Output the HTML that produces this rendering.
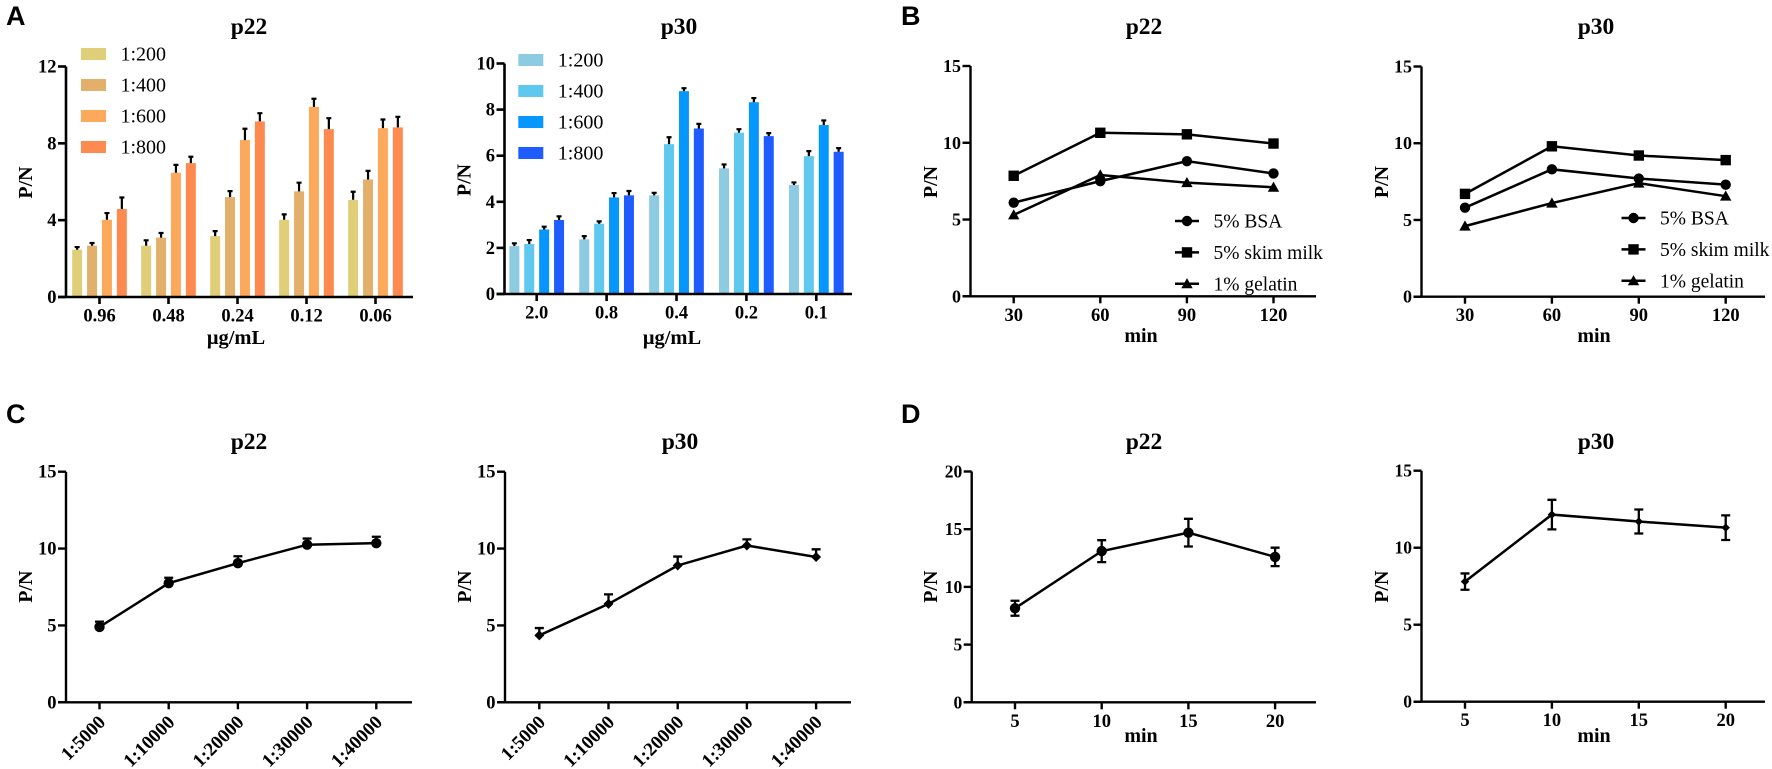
<!DOCTYPE html>
<html lang="en">
<head>
<meta charset="utf-8">
<title>P/N optimisation charts</title>
<style>
html,body{margin:0;padding:0;background:#fff;}
svg{display:block;}
text{font-family:"Liberation Serif",serif;fill:#000;}
.bold{font-weight:700;}
.letter{font-family:"Liberation Sans",sans-serif;font-weight:700;font-size:27px;}
</style>
</head>
<body>
<svg id="figure" width="1772" height="769" viewBox="0 0 1772 769" xmlns="http://www.w3.org/2000/svg"></svg>
<script>
/* ---------- shared labels ---------- */
const dilutionLabels = ['1:200', '1:400', '1:600', '1:800'];
const warmColors = ['#e0cf78', '#e3b06c', '#fda95c', '#fe8a50'];
const coolColors = ['#8ccbe2', '#5fc8ef', '#0597fe', '#1f5cfe'];
const blockerLabels = ['5% BSA', '5% skim milk', '1% gelatin'];
const blockerShapes = ['circle', 'square', 'triangle'];

/* ---------- panel A p22 ---------- */
const aP22Categories = ['0.96', '0.48', '0.24', '0.12', '0.06'];
const aP22Ticks = [0, 4, 8, 12];
const aP22D200 = [2.46, 2.67, 3.17, 4.02, 5.06];
const aP22D400 = [2.67, 3.09, 5.2, 5.5, 6.12];
const aP22D600 = [4.02, 6.47, 8.17, 9.9, 8.79];
const aP22D800 = [4.58, 6.97, 9.14, 8.74, 8.83];
const aP22E200 = [0.14, 0.28, 0.26, 0.28, 0.42];
const aP22E400 = [0.14, 0.24, 0.31, 0.45, 0.45];
const aP22E600 = [0.35, 0.41, 0.59, 0.42, 0.45];
const aP22E800 = [0.6, 0.33, 0.43, 0.57, 0.55];

/* ---------- panel A p30 ---------- */
const aP30Categories = ['2.0', '0.8', '0.4', '0.2', '0.1'];
const aP30Ticks = [0, 2, 4, 6, 8, 10];
const aP30D200 = [2.08, 2.37, 4.28, 5.45, 4.73];
const aP30D400 = [2.17, 3.05, 6.5, 7.0, 5.98];
const aP30D600 = [2.8, 4.19, 8.8, 8.32, 7.33];
const aP30D800 = [3.21, 4.28, 7.18, 6.85, 6.17];
const aP30E200 = [0.12, 0.14, 0.11, 0.17, 0.11];
const aP30E400 = [0.17, 0.1, 0.3, 0.15, 0.22];
const aP30E600 = [0.12, 0.19, 0.13, 0.18, 0.2];
const aP30E800 = [0.16, 0.19, 0.2, 0.13, 0.16];

/* ---------- panel B ---------- */
const minuteCategoriesB = ['30', '60', '90', '120'];
const ticks0to15 = [0, 5, 10, 15];
const bP22Bsa = [6.1, 7.5, 8.8, 8.0];
const bP22Milk = [7.85, 10.65, 10.55, 9.95];
const bP22Gelatin = [5.3, 7.9, 7.4, 7.1];
const bP30Bsa = [5.8, 8.3, 7.7, 7.3];
const bP30Milk = [6.7, 9.8, 9.2, 8.9];
const bP30Gelatin = [4.6, 6.1, 7.4, 6.55];

/* ---------- panel C ---------- */
const dilutionCategoriesC = ['1:5000', '1:10000', '1:20000', '1:30000', '1:40000'];
const cP22Values = [4.9, 7.75, 9.05, 10.25, 10.35];
const cP22Errors = [0.35, 0.35, 0.45, 0.4, 0.42];
const cP30Values = [4.35, 6.4, 8.9, 10.2, 9.45];
const cP30Errors = [0.48, 0.62, 0.58, 0.4, 0.5];

/* ---------- panel D ---------- */
const minuteCategoriesD = ['5', '10', '15', '20'];
const ticks0to20 = [0, 5, 10, 15, 20];
const dP22Values = [8.15, 13.1, 14.7, 12.6];
const dP22Errors = [0.65, 0.95, 1.2, 0.8];
const dP30Values = [7.8, 12.15, 11.7, 11.3];
const dP30Errors = [0.53, 0.96, 0.78, 0.8];

const svg = document.getElementById('figure');
const NS = 'http://www.w3.org/2000/svg';

function make(tag, parent, attrs, content) {
  const node = document.createElementNS(NS, tag);
  for (const key in attrs) node.setAttribute(key, attrs[key]);
  if (content !== undefined) node.textContent = content;
  parent.appendChild(node);
  return node;
}

function linearScale(domainMax, y0, yTop) {
  return function (v) { return y0 - (v / domainMax) * (y0 - yTop); };
}

function drawMarker(parent, shape, x, y, size) {
  let m;
  if (shape === 'circle') {
    m = make('circle', parent, { cx: x, cy: y, r: 5.2, fill: '#000' });
  } else if (shape === 'square') {
    m = make('rect', parent, { x: x - 5.2, y: y - 5.2, width: 10.4, height: 10.4, fill: '#000' });
  } else if (shape === 'triangle') {
    m = make('polygon', parent, { points: (x - 5.7) + ',' + (y + 4.5) + ' ' + x + ',' + (y - 5.7) + ' ' + (x + 5.7) + ',' + (y + 4.5), fill: '#000' });
  } else {
    m = make('polygon', parent, { points: (x - size) + ',' + y + ' ' + x + ',' + (y - size) + ' ' + (x + size) + ',' + y + ' ' + x + ',' + (y + size), fill: '#000' });
  }
  
  
}

function drawAxes(g, cfg, y) {
  const ax = make('path', g, {
    d: 'M' + cfg.axisX + ' ' + cfg.yTop + 'V' + cfg.y0 + 'M' + (cfg.axisX - 8) + ' ' + cfg.y0 + 'H' + cfg.xEnd,
    fill: 'none', stroke: '#000', 'stroke-width': cfg.axisWidth
  });
  
  

  cfg.yTicks.forEach(function (t) {
    const mark = make('line', g, { x1: cfg.axisX - 8, x2: cfg.axisX, y1: y(t), y2: y(t), stroke: '#000', 'stroke-width': cfg.axisWidth });
    
    
    const lab = make('text', g, { x: cfg.axisX - 9.5, y: y(t) + 6, 'text-anchor': 'end', 'font-size': cfg.yFont, class: 'bold' }, String(t));
    
    
  });

  cfg.categories.forEach(function (c, i) {
    const x = cfg.x0 + i * cfg.step;
    const mark = make('line', g, { x1: x, x2: x, y1: cfg.y0, y2: cfg.y0 + 7, stroke: '#000', 'stroke-width': cfg.axisWidth });
    
    
    const attrs = cfg.rotate
      ? { transform: 'translate(' + (x + 7) + ',' + (cfg.y0 + 21) + ') rotate(-45)', 'text-anchor': 'end', 'font-size': 19, class: 'bold' }
      : { x: x, y: cfg.y0 + 24.5, 'text-anchor': 'middle', 'font-size': cfg.xFont, class: 'bold' };
    const lab = make('text', g, attrs, c);
    
    
  });

  const title = make('text', g, { x: cfg.titleX, y: cfg.titleY, 'text-anchor': 'middle', 'font-size': 23.5, class: 'bold' }, cfg.title);
  
  

  const yl = make('text', g, { transform: 'translate(' + cfg.ylabelX + ',' + cfg.ylabelY + ') rotate(-90)', 'text-anchor': 'middle', 'font-size': 20, class: 'bold' }, 'P/N');
  
  

  if (cfg.xTitle) {
    const xl = make('text', g, { x: cfg.xTitleX, y: cfg.xTitleY, 'text-anchor': 'middle', 'font-size': cfg.xTitleFont, class: 'bold' }, cfg.xTitle);
    
    
  }
}

function drawBarChart(cfg) {
  const g = make('g', svg, {});
  
  
  const y = linearScale(cfg.yMax, cfg.y0, cfg.yTop);
  cfg.series.forEach(function (values, s) {
    values.forEach(function (v, i) {
      const cx = cfg.x0 + i * cfg.step + (s - 1.5) * 14.9;
      const bar = make('rect', g, { x: cx - 5, y: y(v), width: 10, height: cfg.y0 - y(v), fill: cfg.colors[s] });
      
      
      const top = y(v + cfg.errors[s][i]);
      const err = make('path', g, { d: 'M' + cx + ' ' + y(v) + 'V' + top + 'M' + (cx - 2.5) + ' ' + top + 'H' + (cx + 2.5), stroke: '#000', 'stroke-width': 2.2, fill: 'none' });
      
      
    });
  });
  drawAxes(g, cfg, y);
  dilutionLabels.forEach(function (label, i) {
    const yc = cfg.legendY + i * 31;
    const sw = make('rect', g, { x: cfg.legendX, y: yc - 6, width: 25, height: 12, fill: cfg.colors[i] });
    
    
    const t = make('text', g, { x: cfg.legendX + 39.5, y: yc + 6.5, 'font-size': 20 }, label);
    
    
  });
}

function drawLineChart(cfg) {
  const g = make('g', svg, {});
  
  
  const y = linearScale(cfg.yMax, cfg.y0, cfg.yTop);
  drawAxes(g, cfg, y);
  cfg.series.forEach(function (values, s) {
    const pts = values.map(function (v, i) { return (cfg.x0 + i * cfg.step) + ',' + y(v); }).join(' ');
    const line = make('polyline', g, { points: pts, fill: 'none', stroke: '#000', 'stroke-width': 2.5 });
    
    
    values.forEach(function (v, i) {
      const x = cfg.x0 + i * cfg.step;
      if (cfg.errors) {
        const hi = y(v + cfg.errors[i]);
        const lo = cfg.bothSides ? y(v - cfg.errors[i]) : y(v);
        let d = 'M' + x + ' ' + lo + 'V' + hi + 'M' + (x - 4.5) + ' ' + hi + 'H' + (x + 4.5);
        if (cfg.bothSides) d += 'M' + (x - 4.5) + ' ' + lo + 'H' + (x + 4.5);
        const err = make('path', g, { d: d, stroke: '#000', 'stroke-width': 2.3, fill: 'none' });
        
        
      }
      drawMarker(g, cfg.shapes[s], x, y(v), cfg.diamondSize);
    });
  });
  if (cfg.legendX) {
    blockerLabels.forEach(function (label, i) {
      const yc = cfg.legendY + i * 31.4;
      const ln = make('line', g, { x1: cfg.legendX, x2: cfg.legendX + 24, y1: yc, y2: yc, stroke: '#000', 'stroke-width': 2.5 });
      
      
      drawMarker(g, blockerShapes[i], cfg.legendX + 12, yc, 5);
      const t = make('text', g, { x: cfg.legendX + 38.5, y: yc + 6.5, 'font-size': 19.5 }, label);
      
      
    });
  }
}

drawBarChart({
  name: 'panel-a-p22-chart', title: 'p22', titleX: 249, titleY: 34, categories: aP22Categories, yTicks: aP22Ticks, yMax: 12,
  series: [aP22D200, aP22D400, aP22D600, aP22D800], errors: [aP22E200, aP22E400, aP22E600, aP22E800], colors: warmColors,
  axisX: 66, yTop: 66.5, y0: 297, xEnd: 413, x0: 99.5, step: 69, axisWidth: 2.6, xFont: 18.5, yFont: 18.5,
  ylabelX: 32, ylabelY: 182.5, xTitle: '\u03BCg/mL', xTitleFont: 20.5, xTitleX: 236, xTitleY: 344, legendX: 81, legendY: 54
});
drawBarChart({
  name: 'panel-a-p30-chart', title: 'p30', titleX: 679, titleY: 34, categories: aP30Categories, yTicks: aP30Ticks, yMax: 10,
  series: [aP30D200, aP30D400, aP30D600, aP30D800], errors: [aP30E200, aP30E400, aP30E600, aP30E800], colors: coolColors,
  axisX: 504.5, yTop: 63.5, y0: 294, xEnd: 852, x0: 536.7, step: 69.9, axisWidth: 2.6, xFont: 18.5, yFont: 18.5,
  ylabelX: 470.5, ylabelY: 180, xTitle: '\u03BCg/mL', xTitleFont: 20.5, xTitleX: 672, xTitleY: 344, legendX: 518.3, legendY: 60
});
drawLineChart({
  name: 'panel-b-p22-chart', title: 'p22', titleX: 1144, titleY: 34, categories: minuteCategoriesB, yTicks: ticks0to15, yMax: 15,
  series: [bP22Bsa, bP22Milk, bP22Gelatin], shapes: blockerShapes,
  axisX: 970.5, yTop: 66, y0: 296.3, xEnd: 1316, x0: 1013.7, step: 86.6, axisWidth: 2.4, xFont: 18.5, yFont: 18, xTitleFont: 20, diamondSize: 5,
  ylabelX: 937, ylabelY: 182, xTitle: 'min', xTitleX: 1141, xTitleY: 342, legendX: 1175, legendY: 221
});
drawLineChart({
  name: 'panel-b-p30-chart', title: 'p30', titleX: 1596, titleY: 34, categories: minuteCategoriesB, yTicks: ticks0to15, yMax: 15,
  series: [bP30Bsa, bP30Milk, bP30Gelatin], shapes: blockerShapes,
  axisX: 1421.5, yTop: 66.5, y0: 296.7, xEnd: 1765, x0: 1465, step: 86.9, axisWidth: 2.4, xFont: 18.5, yFont: 18, xTitleFont: 20, diamondSize: 5,
  ylabelX: 1388, ylabelY: 182, xTitle: 'min', xTitleX: 1594, xTitleY: 342, legendX: 1621.5, legendY: 218
});
drawLineChart({
  name: 'panel-c-p22-chart', title: 'p22', titleX: 249, titleY: 449, categories: dilutionCategoriesC, yTicks: ticks0to15, yMax: 15,
  series: [cP22Values], errors: cP22Errors, bothSides: false, shapes: ['circle'], rotate: true,
  axisX: 66, yTop: 471.7, y0: 702.3, xEnd: 412, x0: 99.5, step: 69.2, axisWidth: 2.4, xFont: 18, yFont: 18.5, diamondSize: 5,
  ylabelX: 32, ylabelY: 586.7
});
drawLineChart({
  name: 'panel-c-p30-chart', title: 'p30', titleX: 680, titleY: 449, categories: dilutionCategoriesC, yTicks: ticks0to15, yMax: 15,
  series: [cP30Values], errors: cP30Errors, bothSides: false, shapes: ['diamond'], rotate: true,
  axisX: 505, yTop: 471.7, y0: 702.3, xEnd: 851, x0: 539.3, step: 69.2, axisWidth: 2.4, xFont: 18, yFont: 18.5, diamondSize: 5,
  ylabelX: 471, ylabelY: 586.7
});
drawLineChart({
  name: 'panel-d-p22-chart', title: 'p22', titleX: 1144, titleY: 449, categories: minuteCategoriesD, yTicks: ticks0to20, yMax: 20,
  series: [dP22Values], errors: dP22Errors, bothSides: true, shapes: ['circle'],
  axisX: 971.7, yTop: 471.5, y0: 702.3, xEnd: 1316, x0: 1015, step: 86.7, axisWidth: 2.4, xFont: 18.5, yFont: 17.5, xTitleFont: 20, diamondSize: 5,
  ylabelX: 937, ylabelY: 586.7, xTitle: 'min', xTitleX: 1141, xTitleY: 742
});
drawLineChart({
  name: 'panel-d-p30-chart', title: 'p30', titleX: 1596, titleY: 449, categories: minuteCategoriesD, yTicks: ticks0to15, yMax: 15,
  series: [dP30Values], errors: dP30Errors, bothSides: true, shapes: ['diamond'],
  axisX: 1421.5, yTop: 470.7, y0: 701.7, xEnd: 1765, x0: 1465, step: 86.9, axisWidth: 2.4, xFont: 18.5, yFont: 17.5, xTitleFont: 20, diamondSize: 4.2,
  ylabelX: 1388, ylabelY: 586.7, xTitle: 'min', xTitleX: 1594, xTitleY: 742
});

const letterA = make('text', svg, { x: 6, y: 25, class: 'letter' }, 'A');


const letterB = make('text', svg, { x: 901, y: 25, class: 'letter' }, 'B');


const letterC = make('text', svg, { x: 6, y: 423, class: 'letter' }, 'C');


const letterD = make('text', svg, { x: 901, y: 423, class: 'letter' }, 'D');


</script>
</body>
</html>
